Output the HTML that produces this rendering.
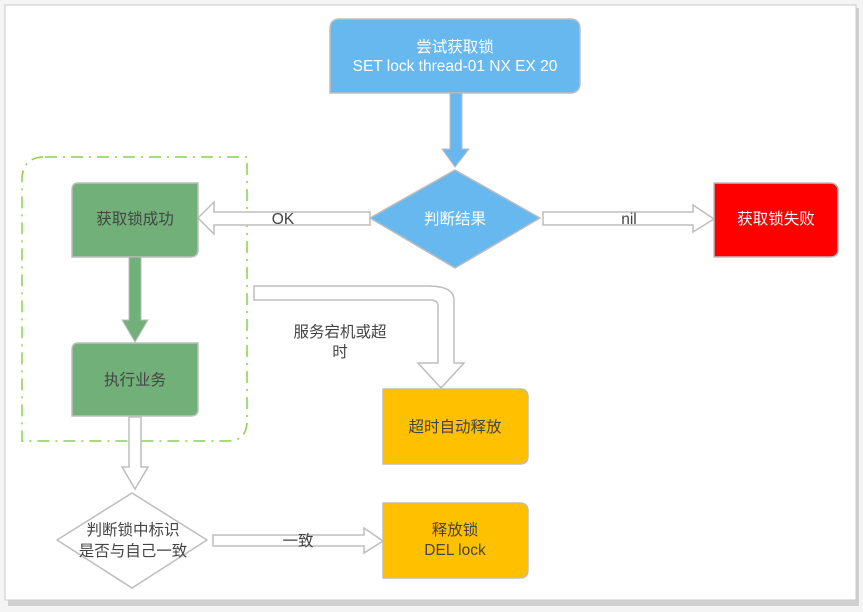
<!DOCTYPE html>
<html><head><meta charset="utf-8"><style>
html,body{margin:0;padding:0;background:#fff;}
svg{display:block}
text{font-family:"Liberation Sans","Noto Sans CJK SC",sans-serif;font-size:15.5px;}
</style></head><body>
<svg width="863" height="612" viewBox="0 0 863 612">
<rect x="0" y="0" width="863" height="612" fill="#f4f4f4"/>
<rect x="8" y="8" width="851" height="598" fill="#d0d0d0"/>
<rect x="5" y="5" width="851" height="595" fill="#fff" stroke="#c8c8c8" stroke-width="1"/>

<path d="M45 157 H247 V421 Q247 441 227 441 H22 V180 Q22 157 45 157 Z" fill="none" stroke="#8ccf4d" stroke-width="1.5" stroke-dasharray="12 6 2 6"/>

<path d="M340 19 H570 Q580 19 580 29 V83 Q580 93 570 93 H330 V29 Q330 19 340 19 Z" fill="#66b8ee" stroke="#bdbdbd" stroke-width="1.5"/>
<text x="455" y="52" fill="#fff" text-anchor="middle">尝试获取锁</text>
<text x="455" y="71" fill="#fff" text-anchor="middle">SET lock thread-01 NX EX 20</text>

<path d="M450 93 H462 V149 H469 L455 167 L442 149 H450 Z" fill="#66b8ee" stroke="#bdbdbd" stroke-width="1"/>

<path d="M455 170 L540 218 L455 268 L370 218 Z" fill="#66b8ee" stroke="#bdbdbd" stroke-width="1.5" stroke-linejoin="round"/>
<text x="455" y="224" fill="#fff" text-anchor="middle">判断结果</text>

<path d="M370 212 V225 H214 V234 L198 218 L214 202 V212 Z" fill="#fff" stroke="#bdbdbd" stroke-width="1.5"/>
<text x="283" y="224" fill="#444" text-anchor="middle">OK</text>

<path d="M543 212 H693 V205 L714 219 L693 232 V225 H543 Z" fill="#fff" stroke="#bdbdbd" stroke-width="1.5"/>
<text x="629" y="224" fill="#444" text-anchor="middle">nil</text>

<path d="M714 183 H830 Q838 183 838 191 V250 Q838 257 830 257 H714 Z" fill="#ff0000" stroke="#bdbdbd" stroke-width="1.5"/>
<text x="776" y="224" fill="#fff" text-anchor="middle">获取锁失败</text>

<path d="M78 183 H198 V250 Q198 257 190 257 H72 V190 Q72 183 78 183 Z" fill="#71b079" stroke="#bdbdbd" stroke-width="1.5"/>
<text x="135" y="224" fill="#444" text-anchor="middle">获取锁成功</text>
<path d="M78 343 H198 V410 Q198 416 190 416 H72 V350 Q72 343 78 343 Z" fill="#71b079" stroke="#bdbdbd" stroke-width="1.5"/>
<text x="135" y="385" fill="#444" text-anchor="middle">执行业务</text>

<path d="M129 257 H141 V320 H148 L135 342 L122 320 H129 Z" fill="#71b079" stroke="#bdbdbd" stroke-width="1"/>

<path d="M254 286 H428 Q454 286 454 300 V363 H464 L441 388 L418 363 H438 V306 Q438 300 430 300 H254 Z" fill="#fff" stroke="#bdbdbd" stroke-width="1.5"/>
<text x="340" y="337" fill="#444" text-anchor="middle">服务宕机或超</text>
<text x="340" y="357" fill="#444" text-anchor="middle">时</text>

<path d="M383 389 H520 Q528 389 528 397 V456 Q528 464 520 464 H383 Z" fill="#ffc000" stroke="#bdbdbd" stroke-width="1.5"/>
<text x="455" y="432" fill="#444" text-anchor="middle">超时自动释放</text>

<path d="M129 417 H141 V467 H148 L135 489 L122 467 H129 Z" fill="#fff" stroke="#bdbdbd" stroke-width="1.5"/>

<path d="M132 493 L207 540 L132 588 L57 540 Z" fill="#fff" stroke="#bdbdbd" stroke-width="1.5" stroke-linejoin="round"/>
<text x="133" y="535" fill="#444" text-anchor="middle">判断锁中标识</text>
<text x="133" y="556" fill="#444" text-anchor="middle">是否与自己一致</text>

<path d="M213 535 H364 V528 L383 541 L364 553 V546 H213 Z" fill="#fff" stroke="#bdbdbd" stroke-width="1.5"/>
<text x="298" y="546" fill="#444" text-anchor="middle">一致</text>

<path d="M383 503 H520 Q528 503 528 511 V570 Q528 578 520 578 H383 Z" fill="#ffc000" stroke="#bdbdbd" stroke-width="1.5"/>
<text x="455" y="535" fill="#444" text-anchor="middle">释放锁</text>
<text x="455" y="555" fill="#444" text-anchor="middle">DEL lock</text>
</svg>
</body></html>
